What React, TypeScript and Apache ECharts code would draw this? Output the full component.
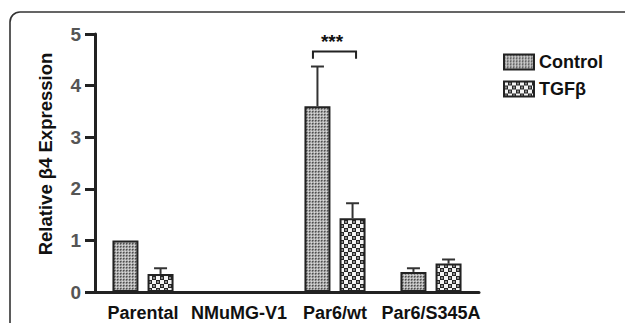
import React, { useEffect, useRef } from "react";
import * as echarts from "echarts";

const categories = ["Parental", "NMuMG-V1", "Par6/wt", "Par6/S345A"];
const seriesNames = ["Control", "TGFβ"];
const controlValues: (number | null)[] = [1.0, null, 3.6, 0.39];
const tgfValues: (number | null)[] = [0.35, null, 1.43, 0.55];
const controlErrorTop: (number | null)[] = [null, null, 4.37, 0.46];
const tgfErrorTop: (number | null)[] = [0.46, null, 1.72, 0.63];
const yMin = 0;
const yMax = 5;
const yInterval = 1;
const sigCategory = 2;
const sigBracketTop = 4.66;
const sigBracketBottom = 4.52;
const sigLabelValue = 4.85;
const sigLabel = "***";
const yTitle = "Relative β4 Expression";

const FONT = "'Liberation Sans', Arial, Helvetica, sans-serif";
const BAR_WIDTH = 26;
const BAR_GAP = 0.35;
const BAR_OFFSET = (BAR_WIDTH + BAR_WIDTH * BAR_GAP) / 2;

function makePattern(kind: "fine" | "check") {
  const c = document.createElement("canvas");
  const ctx = c.getContext("2d")!;
  if (kind === "fine") {
    c.width = 3;
    c.height = 3;
    ctx.fillStyle = "#b4b4b4";
    ctx.fillRect(0, 0, 3, 3);
    ctx.fillStyle = "#4e4e4e";
    ctx.fillRect(0, 0, 1, 1);
    ctx.fillStyle = "#7a7a7a";
    ctx.fillRect(1, 0, 1, 1);
    ctx.fillRect(0, 1, 1, 1);
    ctx.fillStyle = "#dadada";
    ctx.fillRect(2, 2, 1, 1);
    return { image: c.toDataURL(), repeat: "repeat", imageWidth: 3, imageHeight: 3 };
  }
  c.width = 8;
  c.height = 8;
  ctx.fillStyle = "#262626";
  ctx.fillRect(0, 0, 8, 8);
  ctx.fillStyle = "#f4f4f4";
  ctx.fillRect(0, 0, 4, 4);
  ctx.fillRect(4, 4, 4, 4);
  ctx.fillStyle = "#8a8a8a";
  ctx.fillRect(5, 1, 2, 2);
  ctx.fillRect(1, 5, 2, 2);
  return { image: c.toDataURL(), repeat: "repeat", imageWidth: 8, imageHeight: 8 };
}

export default function App() {
  const ref = useRef<HTMLDivElement>(null);
  useEffect(() => {
    if (!ref.current) return;
    const chart = echarts.init(ref.current, undefined, { renderer: "svg" });
    const finePattern = makePattern("fine");
    const checkPattern = makePattern("check");

    const errorData: number[][] = [];
    controlValues.forEach((v, i) => {
      const e = controlErrorTop[i];
      if (v != null && e != null) errorData.push([i, 0, v, e]);
    });
    tgfValues.forEach((v, i) => {
      const e = tgfErrorTop[i];
      if (v != null && e != null) errorData.push([i, 1, v, e]);
    });

    const option: any = {
      animation: false,
      backgroundColor: "#ffffff",
      grid: { left: 95, top: 34, width: 384, height: 258 },
      legend: {
        data: seriesNames,
        orient: "vertical",
        left: 498,
        top: 48,
        icon: "rect",
        itemWidth: 30,
        itemHeight: 15,
        itemGap: 9,
        textStyle: {
          fontFamily: FONT,
          fontSize: 18,
          fontWeight: "bold",
          color: "#111",
          lineHeight: 15,
        },
        itemStyle: { borderColor: "#222", borderWidth: 2 },
      },
      xAxis: {
        type: "category",
        data: categories,
        axisLine: { lineStyle: { color: "#222", width: 3 } },
        axisTick: { alignWithLabel: true, length: 8, lineStyle: { color: "#222", width: 3 } },
        axisLabel: {
          interval: 0,
          fontFamily: FONT,
          fontSize: 18,
          fontWeight: "bold",
          color: "#111",
          margin: 12,
        },
      },
      yAxis: {
        type: "value",
        min: yMin,
        max: yMax,
        interval: yInterval,
        splitLine: { show: false },
        axisLine: { show: true, lineStyle: { color: "#222", width: 3 } },
        axisTick: { show: true, length: 10, lineStyle: { color: "#222", width: 3 } },
        axisLabel: {
          fontFamily: FONT,
          fontSize: 19,
          fontWeight: "bold",
          color: "#555",
          margin: 14,
        },
      },
      graphic: [
        {
          type: "rect",
          silent: true,
          z: -10,
          shape: { x: 10, y: 12, width: 900, height: 600, r: 10 },
          style: { fill: "none", stroke: "#333", lineWidth: 1.6 },
        },
        {
          type: "text",
          x: 45,
          y: 154,
          rotation: Math.PI / 2,
          style: {
            text: yTitle,
            font: `bold 18.5px ${FONT}`,
            fill: "#111",
            textAlign: "center",
            textVerticalAlign: "middle",
          },
        },
      ],
      series: [
        {
          name: seriesNames[0],
          type: "bar",
          data: controlValues,
          barWidth: BAR_WIDTH,
          barGap: `${BAR_GAP * 100}%`,
          itemStyle: { color: finePattern, borderColor: "#222", borderWidth: 2 },
          z: 3,
        },
        {
          name: seriesNames[1],
          type: "bar",
          data: tgfValues,
          barWidth: BAR_WIDTH,
          barGap: `${BAR_GAP * 100}%`,
          itemStyle: { color: checkPattern, borderColor: "#222", borderWidth: 2 },
          z: 3,
        },
        {
          type: "custom",
          name: "errors",
          data: errorData,
          z: 2,
          renderItem: (params: any, api: any) => {
            const cat = api.value(0);
            const s = api.value(1);
            const low = api.coord([cat, api.value(2)]);
            const high = api.coord([cat, api.value(3)]);
            const x = low[0] + (s === 0 ? -BAR_OFFSET : BAR_OFFSET);
            const capHalf = BAR_WIDTH / 4;
            const style = { stroke: "#333", lineWidth: 2 };
            return {
              type: "group",
              children: [
                { type: "line", shape: { x1: x, y1: low[1], x2: x, y2: high[1] }, style },
                { type: "line", shape: { x1: x - capHalf, y1: high[1], x2: x + capHalf, y2: high[1] }, style },
              ],
            };
          },
        },
        {
          type: "custom",
          name: "significance",
          data: [[sigCategory, sigBracketTop, sigBracketBottom, sigLabelValue]],
          z: 4,
          renderItem: (params: any, api: any) => {
            const cat = api.value(0);
            const top = api.coord([cat, api.value(1)]);
            const bottom = api.coord([cat, api.value(2)]);
            const lab = api.coord([cat, api.value(3)]);
            const xl = top[0] - BAR_OFFSET - 4.5;
            const xr = top[0] + BAR_OFFSET + 3.5;
            return {
              type: "group",
              children: [
                {
                  type: "polyline",
                  shape: {
                    points: [
                      [xl, bottom[1]],
                      [xl, top[1]],
                      [xr, top[1]],
                      [xr, bottom[1]],
                    ],
                  },
                  style: { stroke: "#222", lineWidth: 2, fill: "none" },
                },
                {
                  type: "text",
                  x: lab[0] - 3,
                  y: lab[1],
                  style: {
                    text: sigLabel,
                    font: `bold 19px ${FONT}`,
                    fill: "#111",
                    textAlign: "center",
                    textVerticalAlign: "middle",
                  },
                },
              ],
            };
          },
        },
      ],
    };
    chart.setOption(option);
    return () => chart.dispose();
  }, []);
  return (
    <div
      ref={ref}
      style={{ position: "absolute", left: 0, top: 0, width: 625, height: 323, background: "#fff" }}
    />
  );
}
